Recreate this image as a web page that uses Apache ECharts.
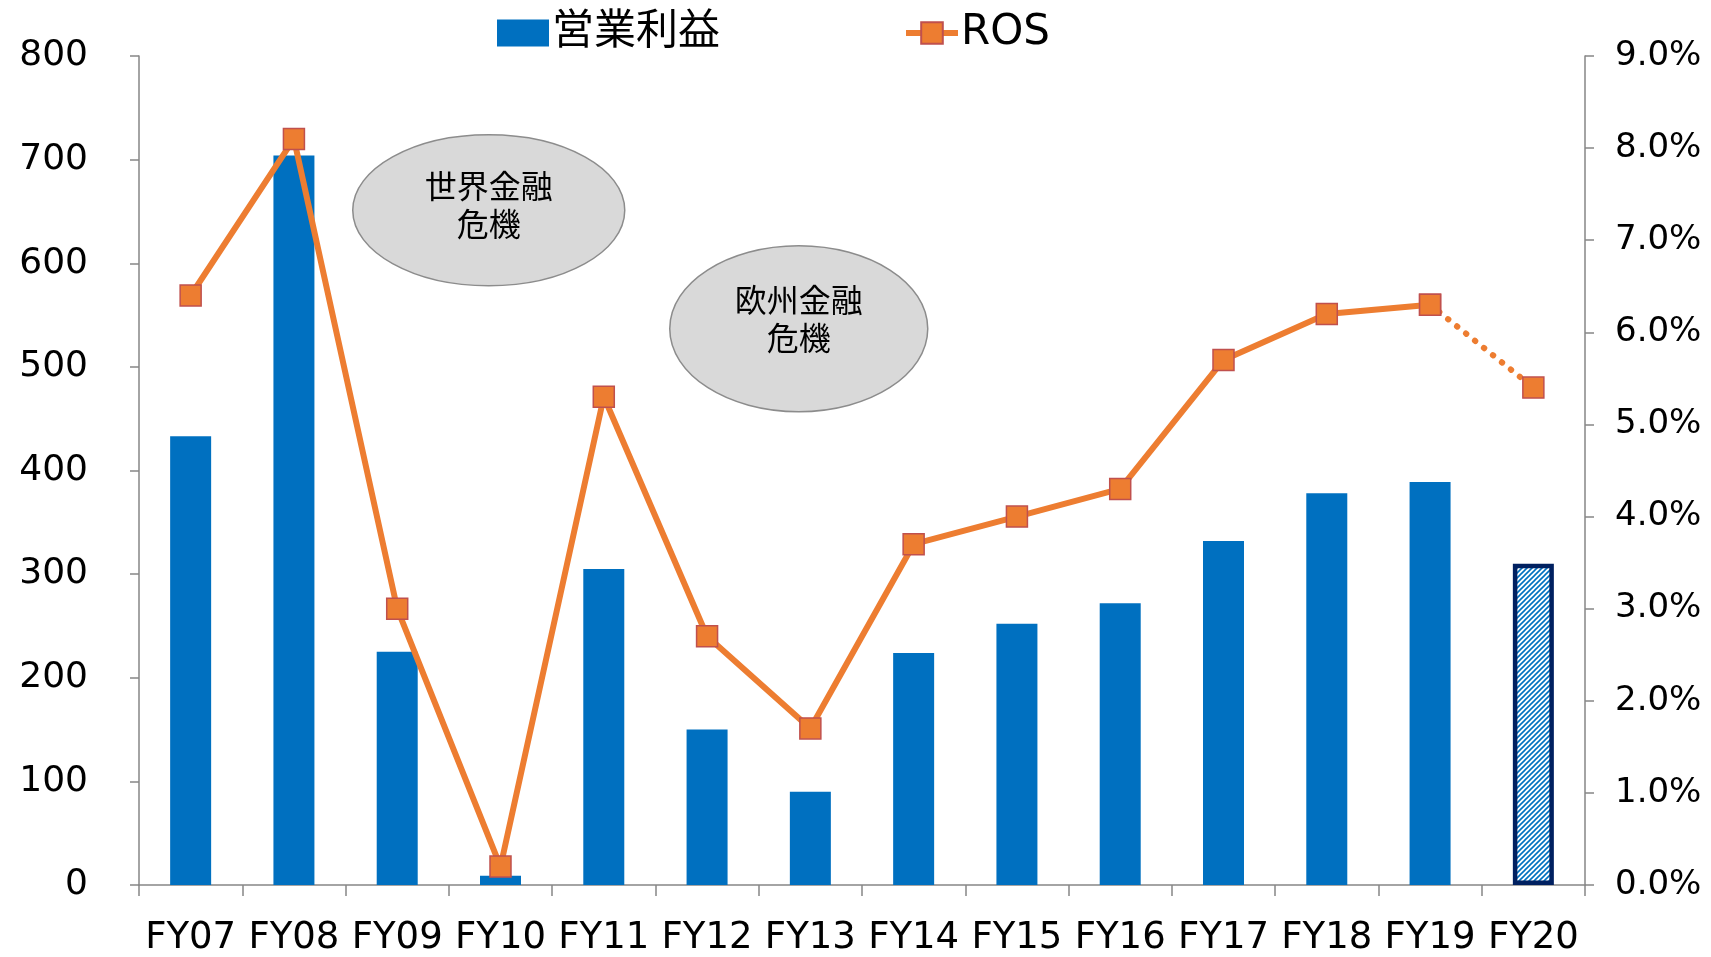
<!DOCTYPE html>
<html><head><meta charset="utf-8">
<script src="https://cdn.jsdelivr.net/npm/echarts@6/dist/echarts.min.js"></script>
<style>html,body{margin:0;padding:0;background:#fff}#c{width:1711px;height:957px}</style>
</head><body><div id="c"></div>
<script>
const categories = ['FY07','FY08','FY09','FY10','FY11','FY12','FY13','FY14','FY15','FY16','FY17','FY18','FY19','FY20'];
const operatingProfit = [433, 704, 225, 9, 305, 150, 90, 224, 252, 272, 332, 378, 389, 310];
const ros = [6.4, 8.1, 3.0, 0.2, 5.3, 2.7, 1.7, 3.7, 4.0, 4.3, 5.7, 6.2, 6.3, 5.4];
const leftTicks = [0, 800, 100];
const rightTicks = [0, 9, 1];
const forecastIndex = 13;

const FONT = '"DejaVu Sans", "Noto Sans CJK JP", sans-serif';
const CJK = '"Noto Sans CJK JP", sans-serif';

// hatch pattern
const pc = document.createElement('canvas');
pc.width = 5; pc.height = 5;
const g = pc.getContext('2d');
g.fillStyle = '#ffffff'; g.fillRect(0,0,5,5);
g.strokeStyle = '#0070C0'; g.lineWidth = 1.6;
g.beginPath(); g.moveTo(-1,6); g.lineTo(6,-1); g.stroke();
g.beginPath(); g.moveTo(-1,1); g.lineTo(1,-1); g.stroke();
g.beginPath(); g.moveTo(4,6); g.lineTo(6,4); g.stroke();

const barData = operatingProfit.map((v,i) => i === forecastIndex ? {
  value: v, itemStyle: { color: { image: pc, repeat: 'repeat' }, borderColor: '#002060', borderWidth: 4.5 }
} : v);
const rosSolid = ros.map((v,i) => i < forecastIndex ? v : '-');
const rosDotted = ros.map((v,i) => i >= forecastIndex - 1 ? v : '-');

const chart = echarts.init(document.getElementById('c'), null, {renderer: 'canvas'});
const axisCol = '#868686';
chart.setOption({
  animation: false,
  backgroundColor: '#fff',
  grid: { left: 139, right: 126, top: 56, bottom: 72 },
  legend: {
    left: 492, top: 7, itemWidth: 52, itemHeight: 27, itemGap: 183,
    textStyle: { fontSize: 42, fontFamily: FONT, color: '#000', padding: [0,0,0,-2] },
    data: [
      { name: '営業利益', icon: 'rect', itemStyle: { color: '#0070C0' } },
      { name: 'ROS', lineStyle: { width: 6, color: '#ED7D31' } }
    ]
  },
  xAxis: {
    type: 'category', data: categories,
    axisLine: { lineStyle: { color: axisCol, width: 1.5 } },
    axisTick: { show: true, interval: 0, length: 11, lineStyle: { color: axisCol, width: 1.5 } },
    axisLabel: { interval: 0, fontSize: 37, fontFamily: FONT, color: '#000', margin: 35 }
  },
  yAxis: [
    { type: 'value', min: leftTicks[0], max: leftTicks[1], interval: leftTicks[2],
      splitLine: { show: false },
      axisLine: { show: true, lineStyle: { color: axisCol, width: 1.5 } },
      axisTick: { show: true, length: 9, lineStyle: { color: axisCol, width: 1.5 } },
      axisLabel: { fontSize: 36, fontFamily: FONT, color: '#000', margin: 51 } },
    { type: 'value', min: rightTicks[0], max: rightTicks[1], interval: rightTicks[2],
      splitLine: { show: false },
      axisLine: { show: true, lineStyle: { color: axisCol, width: 1.5 } },
      axisTick: { show: true, length: 9, lineStyle: { color: axisCol, width: 1.5 } },
      axisLabel: { fontSize: 34, fontFamily: FONT, color: '#000', margin: 30,
        formatter: v => v.toFixed(1) + '%' } }
  ],
  series: [
    { name: '営業利益', type: 'bar', data: barData, barWidth: 41, yAxisIndex: 0,
      itemStyle: { color: '#0070C0' }, z: 2 },
    { name: 'ROS', type: 'line', data: rosSolid, yAxisIndex: 1, z: 5,
      symbol: 'rect', symbolSize: 21,
      lineStyle: { color: '#ED7D31', width: 6 },
      itemStyle: { color: '#ED7D31', borderColor: '#C0504D', borderWidth: 1.5 } },
    { name: 'ROS', type: 'line', data: rosDotted, yAxisIndex: 1, z: 4,
      symbol: 'rect', symbolSize: 21,
      lineStyle: { color: '#ED7D31', width: 6, type: [0.5, 11], cap: 'round' },
      itemStyle: { color: '#ED7D31', borderColor: '#C0504D', borderWidth: 1.5 } }
  ],
  graphic: [
    { type: 'group', left: 352, top: 134, children: [
      { type: 'ellipse', shape: { cx: 136, cy: 75.5, rx: 136, ry: 75.5 },
        style: { fill: '#D9D9D9', stroke: '#8C8C8C', lineWidth: 1.5 } },
      { type: 'text', x: 136, y: 70, style: { text: '世界金融\n危機', fill: '#000', font: '32px ' + CJK,
        align: 'center', verticalAlign: 'middle', lineHeight: 38 } }
    ]},
    { type: 'group', left: 669, top: 245, children: [
      { type: 'ellipse', shape: { cx: 129, cy: 83, rx: 129, ry: 83 },
        style: { fill: '#D9D9D9', stroke: '#8C8C8C', lineWidth: 1.5 } },
      { type: 'text', x: 129, y: 73, style: { text: '欧州金融\n危機', fill: '#000', font: '32px ' + CJK,
        align: 'center', verticalAlign: 'middle', lineHeight: 38 } }
    ]}
  ]
});
</script></body></html>
